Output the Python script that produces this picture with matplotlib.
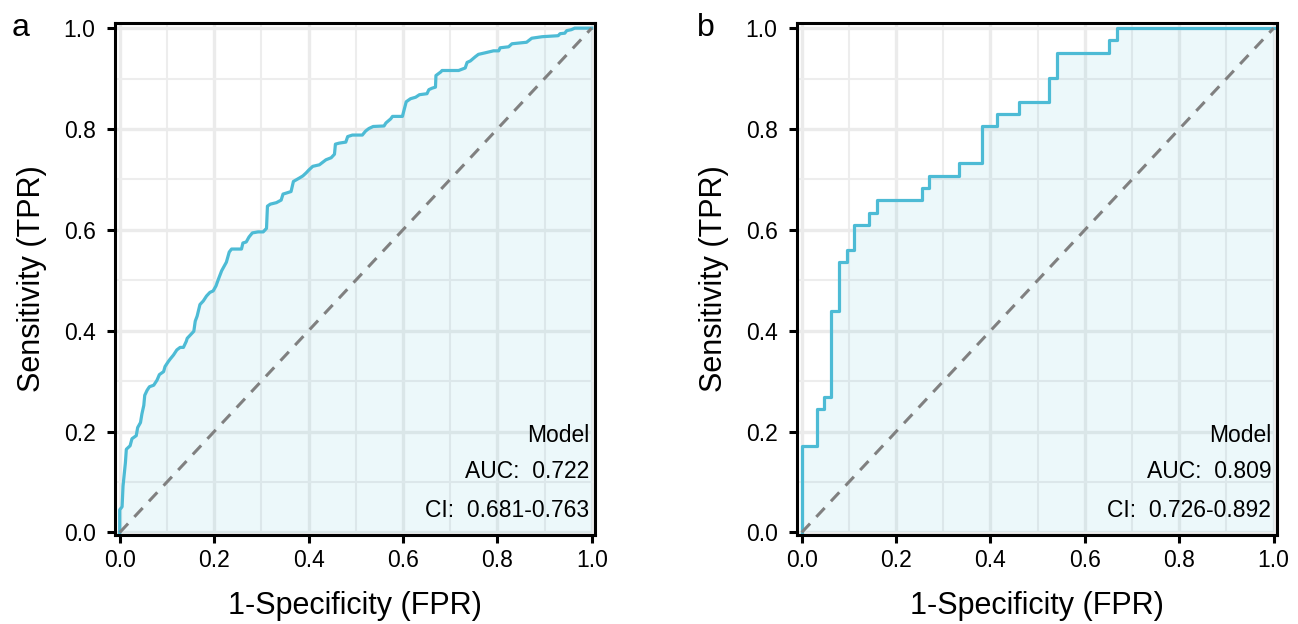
import numpy as np
import matplotlib.pyplot as plt
from matplotlib.ticker import MultipleLocator

plt.rcParams['font.family'] = ['Liberation Sans', 'DejaVu Sans']

# panel a: ROC curve points (FPR, TPR)
fpr_a = [0, 0, 0.005, 0.007, 0.012, 0.014, 0.022, 0.026, 0.035, 0.038, 0.044, 0.047,
         0.051, 0.053, 0.058, 0.063, 0.072, 0.079, 0.084, 0.093, 0.096, 0.103, 0.107,
         0.114, 0.121, 0.128, 0.135, 0.141, 0.143, 0.150, 0.157, 0.160, 0.164, 0.170,
         0.177, 0.184, 0.191, 0.198, 0.204, 0.209, 0.216, 0.226, 0.232, 0.237, 0.258,
         0.261, 0.268, 0.274, 0.281, 0.293, 0.304, 0.311, 0.313, 0.319, 0.332, 0.342,
         0.346, 0.353, 0.363, 0.368, 0.381, 0.388, 0.395, 0.401, 0.409, 0.423, 0.430,
         0.437, 0.448, 0.455, 0.457, 0.465, 0.479, 0.483, 0.493, 0.514, 0.521, 0.528,
         0.537, 0.560, 0.564, 0.574, 0.578, 0.599, 0.602, 0.607, 0.616, 0.627, 0.635,
         0.651, 0.655, 0.662, 0.669, 0.670, 0.680, 0.683, 0.718, 0.732, 0.736, 0.743,
         0.753, 0.760, 0.774, 0.792, 0.803, 0.806, 0.824, 0.831, 0.862, 0.873, 0.895,
         0.929, 0.933, 0.943, 0.947, 0.957, 0.964, 1.0]
tpr_a = [0, 0.045, 0.051, 0.092, 0.138, 0.165, 0.172, 0.186, 0.192, 0.208, 0.218, 0.235,
         0.252, 0.272, 0.282, 0.289, 0.292, 0.302, 0.313, 0.319, 0.329, 0.339, 0.344,
         0.352, 0.362, 0.367, 0.367, 0.379, 0.385, 0.392, 0.399, 0.419, 0.429, 0.452,
         0.459, 0.469, 0.476, 0.479, 0.489, 0.502, 0.519, 0.536, 0.556, 0.562, 0.562,
         0.574, 0.576, 0.586, 0.594, 0.596, 0.596, 0.603, 0.647, 0.651, 0.654, 0.659,
         0.671, 0.673, 0.676, 0.696, 0.703, 0.707, 0.713, 0.719, 0.726, 0.729, 0.734,
         0.739, 0.743, 0.750, 0.770, 0.772, 0.774, 0.785, 0.788, 0.788, 0.796, 0.801,
         0.805, 0.806, 0.812, 0.820, 0.825, 0.825, 0.836, 0.854, 0.860, 0.863, 0.868,
         0.870, 0.878, 0.881, 0.883, 0.906, 0.913, 0.916, 0.916, 0.921, 0.932, 0.935,
         0.943, 0.948, 0.951, 0.955, 0.955, 0.961, 0.963, 0.969, 0.972, 0.980, 0.983,
         0.985, 0.989, 0.990, 0.995, 0.997, 1.0, 1.0]

# panel b: step ROC curve
fpr_b = [0, 0, 0.032, 0.032, 0.048, 0.048, 0.063, 0.063, 0.079, 0.079, 0.095, 0.095,
         0.111, 0.111, 0.143, 0.143, 0.159, 0.159, 0.254, 0.254, 0.270, 0.270, 0.333,
         0.333, 0.381, 0.381, 0.413, 0.413, 0.460, 0.460, 0.524, 0.524, 0.540, 0.540,
         0.651, 0.651, 0.667, 0.667, 1.0]
tpr_b = [0, 0.171, 0.171, 0.244, 0.244, 0.268, 0.268, 0.439, 0.439, 0.537, 0.537, 0.561,
         0.561, 0.610, 0.610, 0.634, 0.634, 0.659, 0.659, 0.683, 0.683, 0.707, 0.707,
         0.732, 0.732, 0.805, 0.805, 0.829, 0.829, 0.854, 0.854, 0.902, 0.902, 0.951,
         0.951, 0.976, 0.976, 1.0, 1.0]

panels = ['a', 'b']
auc = ['0.722', '0.809']
ci = ['0.681-0.763', '0.726-0.892']

line_color = '#4DBBD5'

fig = plt.figure(figsize=(12.98, 6.24), dpi=100)
ax_a = fig.add_axes([0.0886, 0.1426, 0.3698, 0.8204])
ax_b = fig.add_axes([0.6140, 0.1426, 0.3698, 0.8204])

curves = [(fpr_a, tpr_a), (fpr_b, tpr_b)]
for i, ax in enumerate([ax_a, ax_b]):
    x, y = curves[i]
    ax.set_axisbelow(True)
    ax.xaxis.set_major_locator(MultipleLocator(0.2))
    ax.yaxis.set_major_locator(MultipleLocator(0.2))
    ax.xaxis.set_minor_locator(MultipleLocator(0.1))
    ax.yaxis.set_minor_locator(MultipleLocator(0.1))
    ax.grid(which='major', color='#EBEBEB', linewidth=2.4)
    ax.grid(which='minor', color='#EDEDED', linewidth=1.5)

    ax.fill_between(x, y, 0, color=line_color, alpha=0.1, linewidth=0)
    ax.plot(x, y, color=line_color, linewidth=2.3)
    ax.plot([0, 1], [0, 1], color='#808080', linestyle=(0, (4, 3)), linewidth=2.2)

    ax.set_xlim(-0.01, 1.007)
    ax.set_ylim(-0.005, 1.01)
    for s in ax.spines.values():
        s.set_linewidth(2.2)
    ax.tick_params(which='major', direction='out', length=6, width=2.2,
                   labelsize=16.5, colors='black')
    ax.tick_params(axis='x', pad=4)
    ax.tick_params(axis='y', pad=8)
    ax.tick_params(which='minor', length=0)
    ax.set_xlabel('1-Specificity (FPR)', fontsize=22, labelpad=14)
    ax.set_ylabel('Sensitivity (TPR)', fontsize=22, labelpad=12)

    ax.text(0.995, 0.192, 'Model', ha='right', va='center', fontsize=16.5)
    ax.text(0.995, 0.121, 'AUC:  ' + auc[i], ha='right', va='center', fontsize=16.5)
    ax.text(0.995, 0.044, 'CI:  ' + ci[i], ha='right', va='center', fontsize=16.5)

fig.text(0.009, 0.955, panels[0], fontsize=23, va='center')
fig.text(0.537, 0.955, panels[1], fontsize=23, va='center')

fig.savefig('out.png', dpi=100)
